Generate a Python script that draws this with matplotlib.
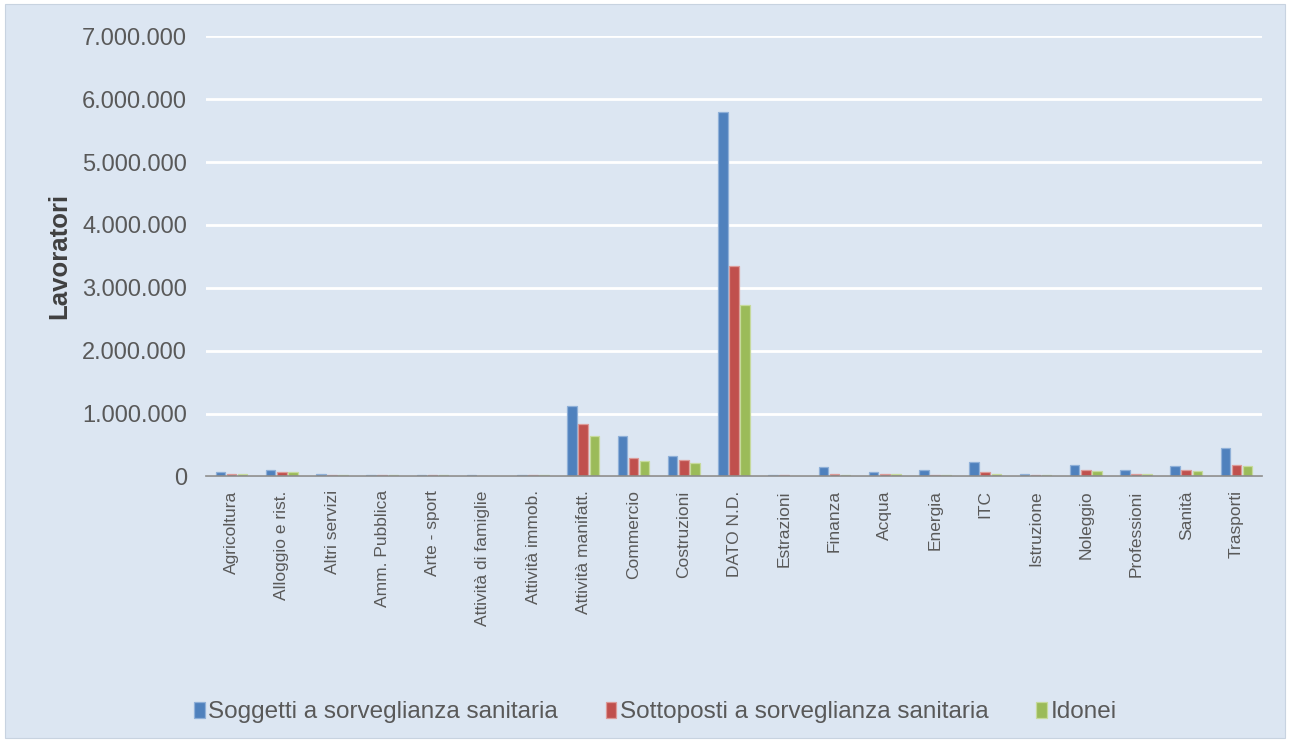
import matplotlib.pyplot as plt
import numpy as np
from matplotlib.patches import Rectangle
from matplotlib.ticker import FuncFormatter

plt.rcParams["font.family"] = ["Liberation Sans", "DejaVu Sans"]

categories = ["Agricoltura", "Alloggio e rist.", "Altri servizi", "Amm. Pubblica",
              "Arte - sport", "Attività di famiglie", "Attività immob.",
              "Attività manifatt.", "Commercio", "Costruzioni", "DATO N.D.",
              "Estrazioni", "Finanza", "Acqua", "Energia", "ITC", "Istruzione",
              "Noleggio", "Professioni", "Sanità", "Trasporti"]

soggetti = [65000, 105000, 45000, 25000, 20000, 20000, 20000,
            1120000, 650000, 330000, 5800000,
            20000, 145000, 65000, 105000, 230000, 45000,
            185000, 105000, 165000, 450000]
sottoposti = [45000, 65000, 25000, 25000, 25000, 3000, 20000,
              840000, 290000, 265000, 3340000,
              15000, 45000, 45000, 25000, 65000, 25000,
              105000, 45000, 105000, 185000]
idonei = [45000, 65000, 25000, 20000, 20000, 3000, 20000,
          650000, 250000, 210000, 2720000,
          10000, 15000, 45000, 15000, 45000, 20000,
          85000, 45000, 85000, 165000]

series = [("Soggetti a sorveglianza sanitaria", soggetti, "#4f81bd", "#8fb0d8"),
          ("Sottoposti a sorveglianza sanitaria", sottoposti, "#c0504d", "#dc9a98"),
          ("Idonei", idonei, "#9bbb59", "#c6da9c")]

bg = "#dce6f2"
txt = "#595959"

fig = plt.figure(figsize=(12.9, 7.42), dpi=100, facecolor="white")
fig.patches.append(Rectangle((0.004, 0.006), 0.992, 0.988, transform=fig.transFigure,
                             facecolor=bg, edgecolor="#c8d3e0", linewidth=0.8, zorder=-10))
ax = fig.add_axes([0.16, 0.358, 0.818, 0.593])
ax.set_facecolor(bg)

x = np.arange(len(categories))
w = 0.19
for i, (name, vals, col, edge) in enumerate(series):
    ax.bar(x + (i - 1) * (w + 0.03), vals, width=w, color=col,
           edgecolor=edge, linewidth=0.9, label=name, zorder=3)

ax.set_xlim(-0.5, len(categories) - 0.5)
ax.set_ylim(0, 7000000)
ax.set_yticks(np.arange(0, 7000001, 1000000))
ax.yaxis.set_major_formatter(FuncFormatter(lambda v, p: f"{int(v):,}".replace(",", ".")))
ax.grid(axis="y", color="white", linewidth=2, zorder=1)
ax.set_axisbelow(True)
for s in ["top", "right", "left"]:
    ax.spines[s].set_visible(False)
ax.spines["bottom"].set_color("#8c8c8c")
ax.spines["bottom"].set_linewidth(1.2)
ax.spines["bottom"].set_zorder(4)

ax.set_xticks(x)
ax.set_xticklabels(categories, rotation=90, fontsize=12.5, color=txt)
ax.tick_params(axis="x", length=0, pad=10)
ax.tick_params(axis="y", length=0, labelsize=17, labelcolor=txt, pad=14)
ax.set_ylabel("Lavoratori", fontsize=18.5, fontweight="bold", color="#404040", labelpad=8)

fig.legend(loc="center", bbox_to_anchor=(0.508, 0.04), ncol=3, frameon=False,
           fontsize=17.5, labelcolor=txt, handlelength=0.45, handleheight=0.65,
           handletextpad=0.15, columnspacing=1.95)

fig.savefig("out.png", dpi=100, facecolor=fig.get_facecolor())
